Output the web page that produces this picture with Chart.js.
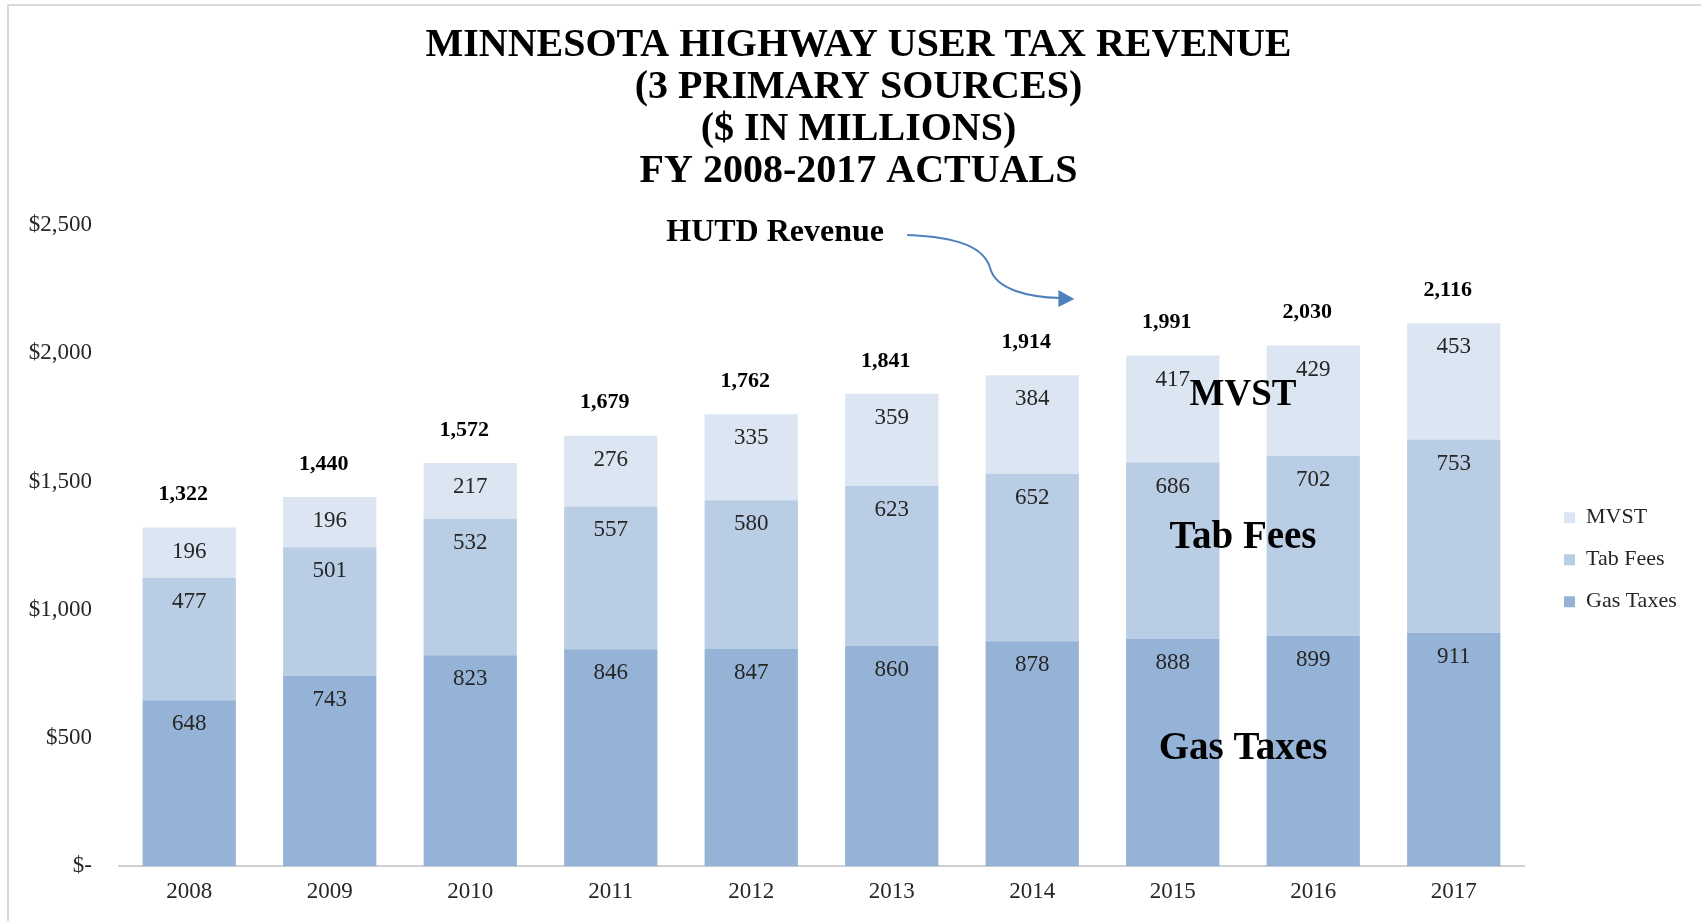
<!DOCTYPE html>
<html>
<head>
  <title>Minnesota Highway User Tax Revenue</title>
  <meta charset="UTF-8">
  <style>
    body {
      margin: 0;
      background: #fff;
      overflow: hidden;
    }
    #wrap {
      position: relative;
      width: 1701px;
      height: 921px;
    }
    #frame {
      position: absolute;
      left: 7px;
      top: 4px;
      right: 0;
      bottom: 0;
      border-left: 2px solid #d9d9d9;
      border-top: 2px solid #d9d9d9;
    }
    #chart {
      position: absolute;
      left: 0;
      top: 0;
    }
  </style>
  <script src="https://cdn.jsdelivr.net/npm/chart.js"></script>
</head>
<body>
  <div id="wrap">
    <div id="frame"></div>
    <canvas id="chart" width="1701" height="921"></canvas>
  </div>

  <script>
  // data ($ in millions)
  const years = ["2008", "2009", "2010", "2011", "2012", "2013", "2014", "2015", "2016", "2017"];
  const gasTaxes = [648, 743, 823, 846, 847, 860, 878, 888, 899, 911];
  const tabFees = [477, 501, 532, 557, 580, 623, 652, 686, 702, 753];
  const mvst = [196, 196, 217, 276, 335, 359, 384, 417, 429, 453];
  const totals = [1322, 1440, 1572, 1679, 1762, 1841, 1914, 1991, 2030, 2116];

  const titleLines = [
    "MINNESOTA HIGHWAY USER TAX REVENUE",
    "(3 PRIMARY SOURCES)",
    "($ IN MILLIONS)",
    "FY 2008-2017 ACTUALS"
  ];

  // text notes on the plot, anchored in (category index, $ value)
  const noteText = ["HUTD Revenue", "MVST", "Tab Fees", "Gas Taxes"];
  const noteX = [4.17, 7.5, 7.5, 7.5];
  const noteY = [2469, 1835, 1280, 456];
  // curved arrow from the HUTD note, same units
  const arrowX = [5.11, 5.49, 5.66, 5.70, 5.74, 5.98, 6.20];
  const arrowY = [2461, 2453, 2410, 2332, 2246, 2219, 2215];

  const SERIF = '"Liberation Serif", "Times New Roman", serif';
  const TEXT = "#262626";

  // segment values and totals
  const valueLabels = {
    id: "valueLabels",
    afterDatasetsDraw(chart) {
      const ctx = chart.ctx;
      const yScale = chart.scales.y;
      ctx.save();
      ctx.textAlign = "center";
      ctx.textBaseline = "middle";
      ctx.font = "23px " + SERIF;
      ctx.fillStyle = TEXT;
      chart.data.datasets.forEach((ds, i) => {
        chart.getDatasetMeta(i).data.forEach((bar, j) => {
          ctx.fillText(ds.data[j], bar.x, bar.y + 24);
        });
      });
      ctx.font = "bold 22px " + SERIF;
      ctx.fillStyle = "#000";
      const bars = chart.getDatasetMeta(0).data;
      totals.forEach((t, j) => {
        ctx.fillText(t.toLocaleString("en-US"), bars[j].x - 6, yScale.getPixelForValue(t) - 33);
      });
      ctx.restore();
    }
  };

  // big series names + HUTD arrow
  const notes = {
    id: "notes",
    afterDatasetsDraw(chart) {
      const ctx = chart.ctx;
      const xs = chart.scales.x, ys = chart.scales.y;
      ctx.save();
      ctx.textAlign = "center";
      ctx.textBaseline = "middle";
      ctx.fillStyle = "#000";
      noteText.forEach((t, i) => {
        ctx.font = (i === 0 ? "bold 32px " : i === 1 ? "bold 37px " : "bold 39px ") + SERIF;
        ctx.fillText(t, xs.getPixelForValue(noteX[i]), ys.getPixelForValue(noteY[i]));
      });

      const p = arrowX.map((v, i) => [xs.getPixelForValue(v), ys.getPixelForValue(arrowY[i])]);
      ctx.strokeStyle = "#4f81bd";
      ctx.fillStyle = "#4f81bd";
      ctx.lineWidth = 2;
      ctx.beginPath();
      ctx.moveTo(p[0][0], p[0][1]);
      ctx.bezierCurveTo(p[1][0], p[1][1], p[2][0], p[2][1], p[3][0], p[3][1]);
      ctx.bezierCurveTo(p[4][0], p[4][1], p[5][0], p[5][1], p[6][0], p[6][1]);
      ctx.stroke();
      const e = p[6];
      ctx.beginPath();
      ctx.moveTo(e[0] - 2, e[1] - 8);
      ctx.lineTo(e[0] + 14, e[1] + 1);
      ctx.lineTo(e[0] - 2, e[1] + 9);
      ctx.closePath();
      ctx.fill();
      ctx.restore();
    }
  };

  // legend: fixed width so the plot ends where the original does, items nudged right/down
  const legendFit = {
    id: "legendFit",
    beforeLayout(chart) {
      const lg = chart.legend;
      if (lg && !lg._fixed) {
        const orig = lg.fit.bind(lg);
        lg.fit = function () { orig(); this.width = 177; };
        lg._fixed = true;
      }
    },
    afterLayout(chart) {
      const lg = chart.legend;
      lg.left += 20; lg.right += 20;
      lg.top += 14; lg.bottom += 14;
    }
  };

  const chart = new Chart(document.getElementById("chart").getContext("2d"), {
    type: "bar",
    data: {
      labels: years,
      datasets: [
        { label: "Gas Taxes", data: gasTaxes, backgroundColor: "#95b3d7" },
        { label: "Tab Fees", data: tabFees, backgroundColor: "#b9cde5" },
        { label: "MVST", data: mvst, backgroundColor: "#dce6f2" }
      ]
    },
    options: {
      responsive: false,
      animation: false,
      layout: { padding: { left: 16, right: 0, top: 0, bottom: 3 } },
      datasets: {
        bar: { barPercentage: 0.664, categoryPercentage: 1, borderWidth: 0 }
      },
      plugins: {
        title: {
          display: true,
          text: titleLines,
          color: "#000",
          font: { family: SERIF, size: 40, weight: "bold", lineHeight: "42px" },
          padding: { top: 25, bottom: 32 }
        },
        legend: {
          position: "right",
          fullSize: false,
          reverse: true,
          labels: {
            boxWidth: 11,
            boxHeight: 11,
            padding: 20,
            color: TEXT,
            font: { family: SERIF, size: 22 }
          }
        },
        tooltip: { enabled: false }
      },
      scales: {
        x: {
          stacked: true,
          grid: { display: false, drawTicks: false },
          border: { display: true, color: "#d0d0d0", width: 2 },
          ticks: { color: TEXT, padding: 12, font: { family: SERIF, size: 23 } }
        },
        y: {
          stacked: true,
          min: 0,
          max: 2500,
          grid: { display: false, drawTicks: false },
          border: { display: false },
          afterFit(scale) { scale.width = 103; },
          ticks: {
            stepSize: 500,
            padding: 27,
            color: TEXT,
            font: { family: SERIF, size: 23 },
            callback: v => v === 0 ? "$-" : "$" + v.toLocaleString("en-US")
          }
        }
      }
    },
    plugins: [legendFit, valueLabels, notes]
  });
  </script>
</body>
</html>
